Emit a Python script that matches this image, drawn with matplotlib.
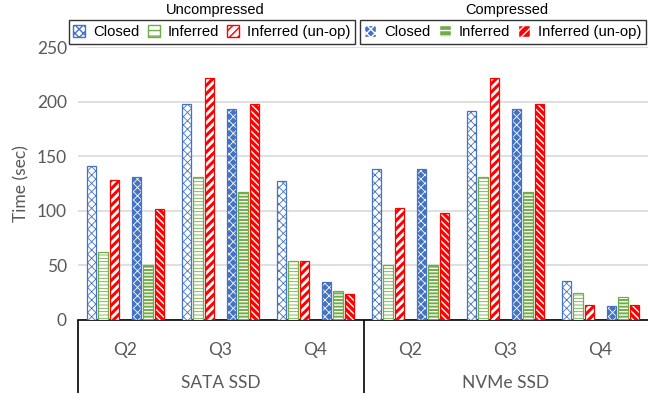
import matplotlib as mpl
import matplotlib.pyplot as plt
from matplotlib.patches import Patch
from matplotlib.lines import Line2D
import numpy as np

# query run times in seconds, one list per mode, ordered SATA Q2..Q4 then NVMe Q2..Q4
queries = ["Q2", "Q3", "Q4", "Q2", "Q3", "Q4"]
devices = ["SATA SSD", "NVMe SSD"]
series = ["Closed", "Inferred", "Inferred (un-op)"]

unc_closed = [141, 198, 127, 138, 191, 36]
unc_inferred = [62, 131, 54, 50, 131, 25]
unc_unop = [128, 222, 54, 103, 222, 14]

cmp_closed = [131, 193, 35, 138, 193, 13]
cmp_inferred = [50, 117, 27, 50, 117, 21]
cmp_unop = [102, 198, 24, 98, 198, 14]

BLUE = "#4472C4"
GREEN = "#70AD47"
RED = "#FF0000"
GRAY = "#595959"

plt.rcParams['font.family'] = ['Lato', 'DejaVu Sans']

fig = plt.figure(figsize=(6.48, 4.01), dpi=100)
ax = fig.add_axes([78 / 648, 1 - 320 / 401, 570 / 648, 273 / 401])

x = np.arange(len(queries))
w = 0.098
offs = [-0.355, -0.237, -0.119, 0.119, 0.237, 0.355]


def open_bar(pos, vals, color, hatch, hlw=0.6):
    # white bar with coloured outline and coloured hatch
    with mpl.rc_context({'hatch.linewidth': hlw}):
        ax.bar(pos, vals, w, color="white", edgecolor=color, hatch=hatch,
               linewidth=0.9, zorder=3)


def filled_bar(pos, vals, color, hatch, hlw=0.6):
    # solid bar with white hatch, outline drawn on top
    with mpl.rc_context({'hatch.linewidth': hlw}):
        ax.bar(pos, vals, w, color=color, edgecolor="white", hatch=hatch,
               linewidth=0, zorder=3)
    ax.bar(pos, vals, w, fill=False, edgecolor=color, linewidth=0.9, zorder=4)


open_bar(x + offs[0], unc_closed, BLUE, "xxxx")
open_bar(x + offs[1], unc_inferred, GREEN, "-----")
open_bar(x + offs[2], unc_unop, RED, "////", hlw=2.2)
filled_bar(x + offs[3], cmp_closed, BLUE, "xxxx")
filled_bar(x + offs[4], cmp_inferred, GREEN, "-----", hlw=1.0)
filled_bar(x + offs[5], cmp_unop, RED, "\\\\\\\\\\", hlw=1.0)

ax.set_xlim(-0.5, len(queries) - 0.5)
ax.set_ylim(0, 250)
ax.set_yticks(range(0, 251, 50))
ax.yaxis.grid(True, color="#D9D9D9", linewidth=1.2, zorder=0)
ax.set_axisbelow(True)
for s in ["top", "right", "left"]:
    ax.spines[s].set_visible(False)
ax.spines["bottom"].set_color("black")
ax.spines["bottom"].set_linewidth(1.2)
ax.tick_params(axis="y", length=0, labelsize=12.5, labelcolor=GRAY, pad=8)
ax.set_xticks([])
ax.set_ylabel("Time (sec)", fontsize=12.5, color=GRAY, labelpad=5)

# two-level category axis below the bars
tr = ax.get_xaxis_transform()
for i, q in enumerate(queries):
    ax.text(i, -0.11, q, transform=tr, ha="center", va="center",
            fontsize=12.5, color=GRAY)
for j, d in enumerate(devices):
    ax.text(1 + 3 * j, -0.23, d, transform=tr, ha="center", va="center",
            fontsize=12.5, color=GRAY)
# separators: left edge and between the two devices
y0 = 1 - 320 / 401
for xf in [78 / 648, 363.5 / 648]:
    fig.add_artist(Line2D([xf, xf], [y0, 0.02], color="black",
                          linewidth=1.2, solid_capstyle="butt"))

# legends for the two modes
def handles(filled):
    out = []
    for c, h in zip([BLUE, GREEN, RED], ["xxxx", "---", "////"]):
        if filled:
            out.append(Patch(facecolor=c, edgecolor="white", hatch=h))
        else:
            out.append(Patch(facecolor="white", edgecolor=c, hatch=h))
    return out


leg_kw = dict(ncol=3, prop={"family": "Liberation Sans", "size": 10.7},
              frameon=True, fancybox=False,
              handlelength=0.8, handleheight=0.9, handletextpad=0.55,
              columnspacing=0.55, borderpad=0.3, borderaxespad=0)
l1 = fig.legend(handles(False), series, loc="center",
                bbox_to_anchor=(212 / 648, 1 - 32 / 401), **leg_kw)
l2 = fig.legend(handles(True), series, loc="center",
                bbox_to_anchor=(503 / 648, 1 - 32 / 401), **leg_kw)
for lg in (l1, l2):
    lg.get_frame().set_edgecolor("black")
    lg.get_frame().set_linewidth(1.0)

fig.text(215 / 648, 1 - 10 / 401, "Uncompressed", ha="center", va="center",
         fontsize=10.5, family="Liberation Sans")
fig.text(507 / 648, 1 - 10 / 401, "Compressed", ha="center", va="center",
         fontsize=10.5, family="Liberation Sans")

fig.savefig("out.png", dpi=100)
